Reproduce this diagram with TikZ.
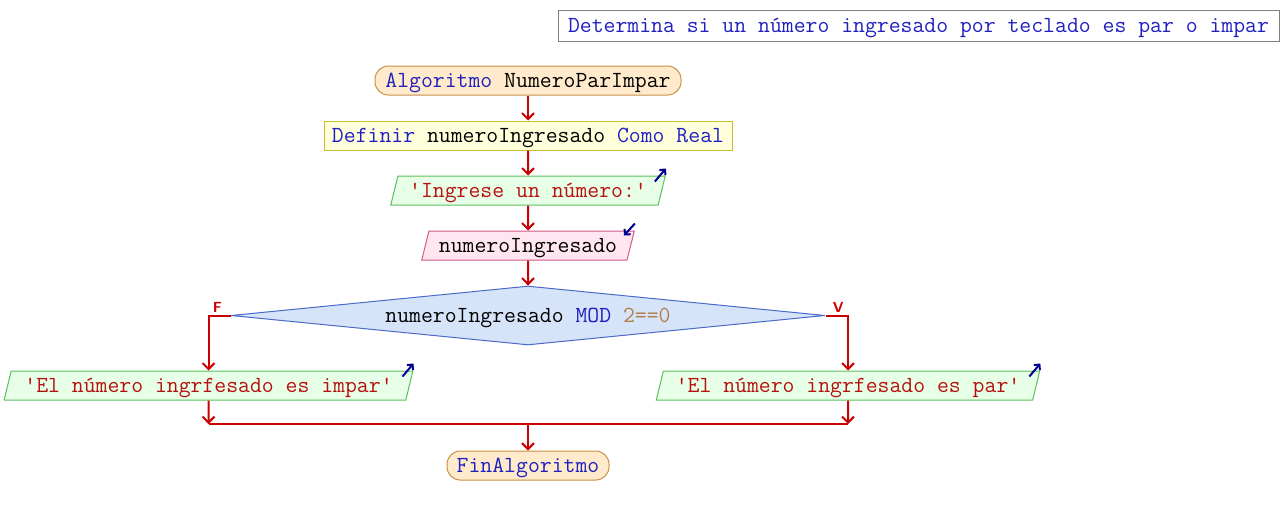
\documentclass[tikz,border=0pt]{standalone}
\usepackage{fontspec}
\usetikzlibrary{positioning, shapes.geometric, arrows.meta, calc}
\usepackage{xcolor}
\definecolor{psred}{HTML}{CC0000}
\definecolor{pskey}{HTML}{2020C0}
\definecolor{psstr}{HTML}{B81010}
\definecolor{psnum}{HTML}{B08048}
\definecolor{psicon}{HTML}{000090}
\definecolor{psgray}{HTML}{808080}
\definecolor{psstartfill}{HTML}{FFEBCC}
\definecolor{psstartline}{HTML}{C89048}
\definecolor{psdeffill}{HTML}{FFFFDC}
\definecolor{psdefline}{HTML}{C8C032}
\definecolor{psoutfill}{HTML}{E6FFE6}
\definecolor{psoutline}{HTML}{5EBE5E}
\definecolor{psinfill}{HTML}{FFE6F0}
\definecolor{psinline}{HTML}{D25A8C}
\definecolor{pscondfill}{HTML}{D6E4FA}
\definecolor{pscondline}{HTML}{4A6AC8}

\tikzset{
  psbox/.style={font=\ttfamily\fontsize{17.3pt}{20pt}\selectfont,
    text height=10.5pt, text depth=0pt,
    minimum height=21.75pt, inner sep=0pt, line width=0.75pt},
  psstart/.style={psbox, draw=psstartline, fill=psstartfill, rounded corners=10pt},
  psdef/.style={psbox, draw=psdefline, fill=psdeffill},
  psio/.style={psbox, trapezium, trapezium left angle=65, trapezium right angle=115,
    trapezium stretches=true},
  psout/.style={psio, draw=psoutline, fill=psoutfill, text=psstr},
  psin/.style={psio, draw=psinline, fill=psinfill},
  pscond/.style={psbox, diamond, aspect=10, draw=pscondline, fill=pscondfill,
    minimum height=44.25pt},
  pstitle/.style={psbox, draw=psgray, minimum height=23.25pt, text=pskey},
  psline/.style={draw=psred, line width=1.5pt},
  psflow/.style={psline, -{Straight Barb[length=4.5pt,width=9pt]}},
  psmark/.style={draw=psicon, line width=1.5pt, -{Straight Barb[length=3pt,width=6pt]}},
  pslabel/.style={font=\sffamily\bfseries\fontsize{11pt}{13pt}\selectfont,
    text=psred, inner sep=1.5pt},
}

\begin{document}
\begin{tikzpicture}[x=0.75pt, y=-0.75pt]
  \useasboundingbox (0,0) rectangle (1288,515);

  \node[pstitle, minimum width=540.75pt] (title) at (918.5,25.5)
    {Determina si un número ingresado por teclado es par o impar};

  \node[psstart, minimum width=229.5pt] (start) at (528,80.5)
    {\textcolor{pskey}{Algoritmo} NumeroParImpar};
  \node[psdef, minimum width=306pt] (def) at (528,135.5)
    {\textcolor{pskey}{Definir} numeroIngresado \textcolor{pskey}{Como Real}};
  \node[psout, minimum width=206.25pt] (ask) at (528,190.5)
    {'Ingrese un número:'};
  \node[psin, minimum width=159.75pt] (read) at (528,245.5)
    {numeroIngresado};
  \node[pscond, minimum width=445.5pt] (cond) at (528,315.5)
    {numeroIngresado \textcolor{pskey}{MOD} \textcolor{psnum}{2==0}};
  \node[psout, minimum width=306.75pt] (odd) at (208.5,385.5)
    {'El número ingrfesado es impar'};
  \node[psout, minimum width=288pt] (even) at (848,385.5)
    {'El número ingrfesado es par'};
  \node[psstart, minimum width=121.5pt] (fin) at (528,465.5)
    {\textcolor{pskey}{FinAlgoritmo}};
  \coordinate (join) at (528,424);

  % main flow
  \draw[psflow] (start) -- (def);
  \draw[psflow] (def) -- (ask);
  \draw[psflow] (ask) -- (read);
  \draw[psflow] (read) -- (cond);

  % branches
  \draw[psflow] (cond.west) -| node[pslabel, pos=0.3, above] {F} (odd.north);
  \draw[psflow] (cond.east) -| node[pslabel, pos=0.28, above] {V} (even.north);
  \draw[psflow] (odd.south) -- (odd |- join);
  \draw[psflow] (even.south) -- (even |- join);
  \draw[psline] (odd |- join) -- (even |- join);
  \draw[psflow] (join) -- (fin);

  % in/out marks
  \draw[psmark] ($(ask.top right corner)+(-11,6)$) -- ($(ask.top right corner)+(0,-7)$);
  \draw[psmark] ($(read.top right corner)+(0,-7)$) -- ($(read.top right corner)+(-11,5)$);
  \draw[psmark] ($(odd.top right corner)+(-11,6)$) -- ($(odd.top right corner)+(0,-7)$);
  \draw[psmark] ($(even.top right corner)+(-11,6)$) -- ($(even.top right corner)+(0,-7)$);
\end{tikzpicture}
\end{document}
